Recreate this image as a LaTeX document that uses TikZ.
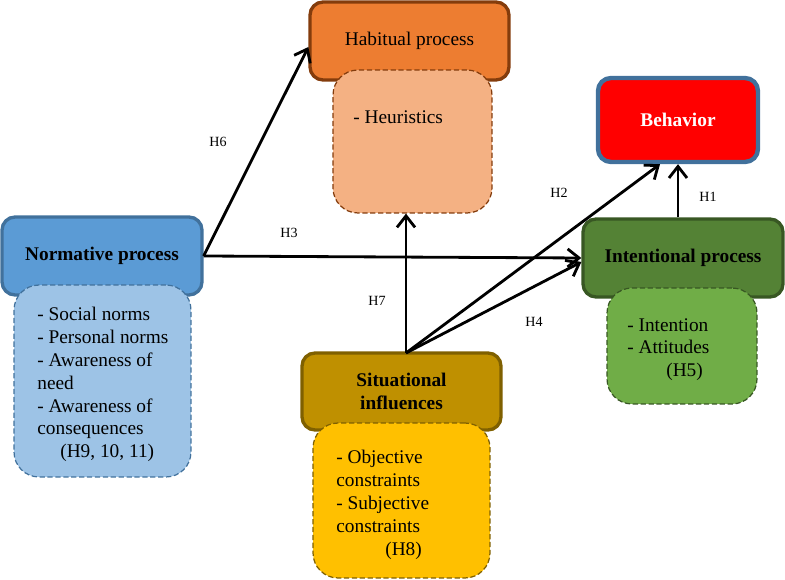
\documentclass[tikz,border=0pt]{standalone}
\usepackage{fontspec}
\setmainfont{Liberation Serif}
\usetikzlibrary{arrows.meta}

\definecolor{normfill}{HTML}{5B9BD5}
\definecolor{normline}{HTML}{41719C}
\definecolor{normsubfill}{HTML}{9DC3E6}
\definecolor{habitfill}{HTML}{ED7D31}
\definecolor{habitline}{HTML}{843C0C}
\definecolor{habitsubfill}{HTML}{F4B183}
\definecolor{intentfill}{HTML}{548235}
\definecolor{intentline}{HTML}{385723}
\definecolor{intentsubfill}{HTML}{70AD47}
\definecolor{situfill}{HTML}{BF9000}
\definecolor{situline}{HTML}{7F6000}
\definecolor{situsubfill}{HTML}{FFC000}

\tikzset{
	box/.style = {draw, rounded corners = 0.26cm, line width = 1.9pt, align = center,
		font = \fontsize{11}{13}\selectfont},
	subbox/.style = {draw, dash pattern = on 3pt off 1.5pt, rounded corners = 0.5cm,
		line width = 0.7pt},
	list/.style = {anchor = north west, align = left, inner sep = 0pt,
		font = \fontsize{11}{13}\selectfont},
	hlab/.style = {font = \footnotesize},
	link/.style = {->, line width = 1.6pt}
}

\begin{document}
\begin{tikzpicture}[x = 0.02cm, y = -0.02cm, > = {Straight Barb[length = 2.3mm, width = 3.6mm]}]

	\useasboundingbox (0, 0) rectangle (785, 580);

	% Normative process

	\node [box, fill = normfill, draw = normline, minimum width = 4cm, minimum height = 1.56cm]
		(norm) at (102, 256) {\bfseries Normative process};
	\node [subbox, fill = normsubfill, draw = normline, minimum width = 3.54cm, minimum height = 3.84cm]
		(normsub) at (102.5, 381) {};
	\node [list] (normlist) at (37, 307) {- Social norms\\- Personal norms\\- Awareness of\\need\\- Awareness of\\consequences\\\hspace*{0.46cm}(H9, 10, 11)};

	% Habitual process

	\node [box, fill = habitfill, draw = habitline, minimum width = 3.98cm, minimum height = 1.56cm]
		(habit) at (409.5, 41) {Habitual process};
	\node [subbox, fill = habitsubfill, draw = habitline, minimum width = 3.18cm, minimum height = 2.86cm]
		(habitsub) at (412.5, 141.5) {};
	\node [list] (habitlist) at (353, 110) {- Heuristics};

	% Behavior

	\node [box, fill = red, draw = normline, line width = 2.5pt, text = white,
		minimum width = 3.2cm, minimum height = 1.68cm]
		(behav) at (678, 120) {\bfseries Behavior};

	% Intentional process

	\node [box, fill = intentfill, draw = intentline, minimum width = 4cm, minimum height = 1.56cm]
		(intent) at (683, 258) {\bfseries Intentional process};
	\node [subbox, fill = intentsubfill, draw = intentline, minimum width = 3cm, minimum height = 2.32cm]
		(intentsub) at (682, 346) {};
	\node [list] (intentlist) at (627, 318) {- Intention\\- Attitudes\\\hspace*{0.78cm}(H5)};

	% Situational influences

	\node [box, fill = situfill, draw = situline, minimum width = 3.98cm, minimum height = 1.54cm]
		(situ) at (401.5, 391.5) {\bfseries Situational\\\bfseries influences};
	\node [subbox, fill = situsubfill, draw = situline, minimum width = 3.54cm, minimum height = 3.1cm]
		(situsub) at (401.5, 500.5) {};
	\node [list] (situlist) at (336, 450) {- Objective\\constraints\\- Subjective\\constraints\\\hspace*{0.98cm}(H8)};

	% Arrows

	\coordinate (src) at (406, 353);

	\draw [link] (norm.east) -- ([yshift = -0.12cm] habit.west);
	\draw [link] (norm.east) -- (intent.west);
	\draw [link] (src) -- (src |- habitsub.south);
	\draw [link] (src) -- ([xshift = -0.36cm] behav.south);
	\draw [link] (src) -- ([yshift = -0.08cm] intent.west);
	\draw [link] (behav.south |- intent.north) -- (behav.south);

	% Labels

	\node [hlab] (h6) at (218, 142) {H6};
	\node [hlab] (h3) at (289, 233) {H3};
	\node [hlab] (h7) at (377, 301) {H7};
	\node [hlab] (h2) at (559, 193) {H2};
	\node [hlab] (h4) at (534, 322) {H4};
	\node [hlab] (h1) at (708, 197) {H1};

\end{tikzpicture}
\end{document}
